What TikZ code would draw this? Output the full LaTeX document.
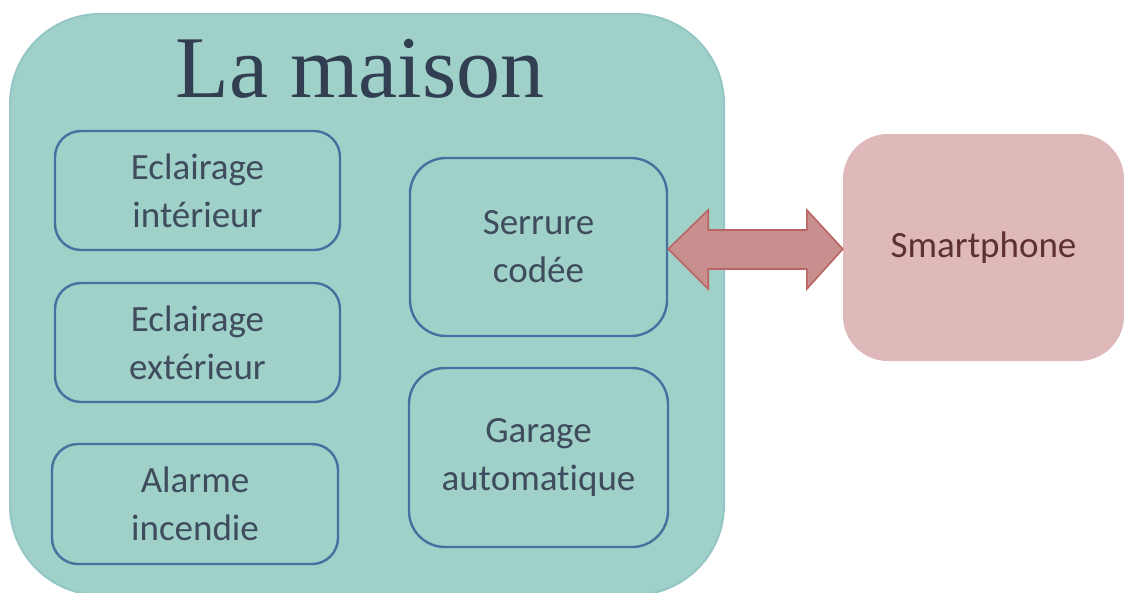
\documentclass[tikz,border=0pt]{standalone}
\usepackage{fontspec}
\setmainfont{Carlito}[Ligatures=NoCommon]
\newfontfamily\titlefont{Liberation Serif}
\usetikzlibrary{calc}

\definecolor{houseFill}{HTML}{A0D1C9}
\definecolor{houseLine}{HTML}{93C6C4}
\definecolor{itemLine}{HTML}{46709F}
\definecolor{itemText}{HTML}{3E4C5D}
\definecolor{titleText}{HTML}{323F52}
\definecolor{phoneFill}{HTML}{DFB9B9}
\definecolor{phoneText}{HTML}{5E3033}
\definecolor{arrowFill}{HTML}{C98E8E}
\definecolor{arrowLine}{HTML}{B96462}

\tikzset{
  house/.style={draw=houseLine, line width=2pt, fill=houseFill,
    rounded corners=90pt, inner sep=0pt},
  item/.style={draw=itemLine, line width=2.4pt, rounded corners=#1,
    inner sep=0pt, align=center, text=itemText,
    font=\fontsize{37}{48}\selectfont},
  item/.default=26pt,
  phone/.style={fill=phoneFill, rounded corners=45pt, inner sep=0pt,
    text=phoneText, font=\fontsize{37}{48}\selectfont},
  link/.style={fill=arrowFill, draw=arrowLine, line width=1.6pt, line join=miter}
}

\begin{document}
\begin{tikzpicture}[x=1pt,y=-1pt]
\useasboundingbox (0,0) rectangle (1124,592);
\clip (0,0) rectangle (1124,592);

% the house frame and its title
\node[house, minimum width=714pt, minimum height=581pt] (house) at (367,304.5) {};
\node[anchor=base, text=titleText, font=\titlefont\fontsize{88}{100}\selectfont]
  (title) at (360,97) {La maison};

% devices inside the house
\node[item, minimum width=285pt, minimum height=119pt] (int) at (197.5,190.5)
  {\raisebox{-3pt}{Eclairage}\\\raisebox{-3pt}{intérieur}};
\node[item, minimum width=285pt, minimum height=119pt] (ext) at (197.5,342.5)
  {\raisebox{-3pt}{Eclairage}\\\raisebox{-3pt}{extérieur}};
\node[item, minimum width=286pt, minimum height=120pt] (alarm) at (195,504)
  {Alarme\\incendie};
\node[item=36pt, minimum width=257pt, minimum height=178pt] (lock) at (538.5,247)
  {Serrure\\codée};
\node[item=36pt, minimum width=259pt, minimum height=179pt] (garage) at (538.5,457.5)
  {Garage\\automatique};

% remote device
\node[phone, minimum width=281pt, minimum height=227pt] (phone) at (983.5,247.5)
  {Smartphone};

% two-way link between the lock and the phone
\coordinate (la) at ($(lock.east)+(0,2)$);
\coordinate (pb) at ($(phone.west)+(0,1.5)$);
\draw[link] (la) -- ($(la)+(40,-39)$) -- ($(la)+(40,-19)$)
  -- ($(pb)+(-36,-19)$) -- ($(pb)+(-36,-39)$) -- (pb)
  -- ($(pb)+(-36,40)$) -- ($(pb)+(-36,20)$)
  -- ($(la)+(40,20)$) -- ($(la)+(40,40)$) -- cycle;
\end{tikzpicture}
\end{document}
